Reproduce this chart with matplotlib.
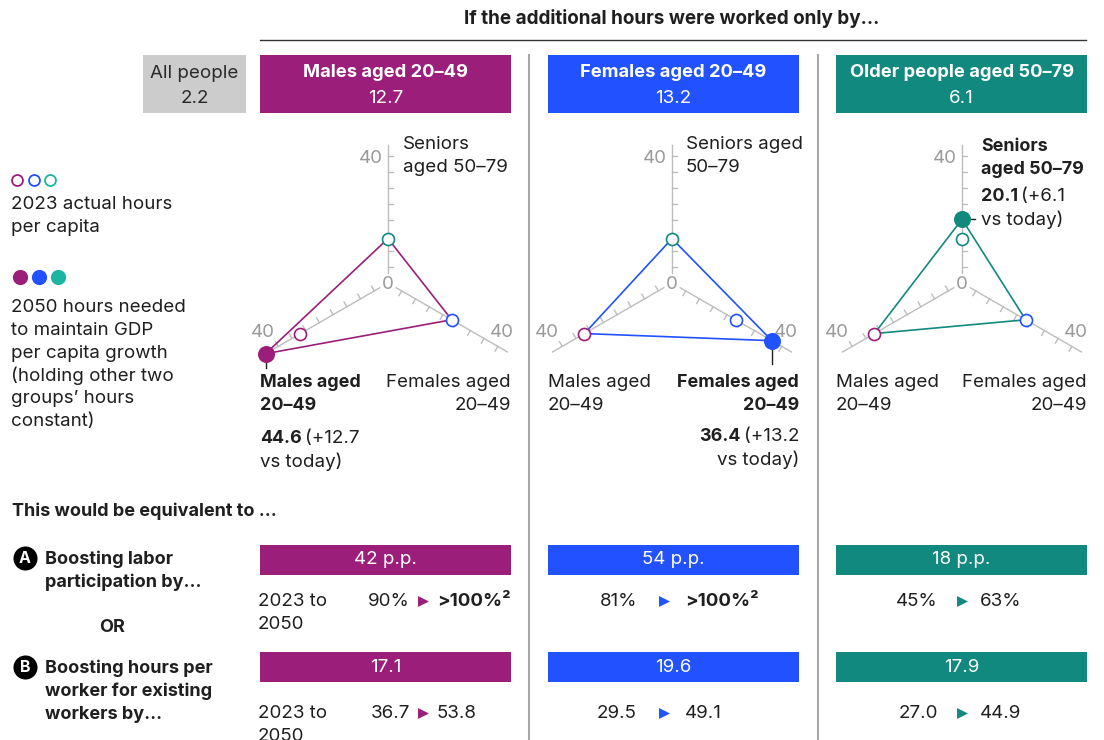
import matplotlib
matplotlib.use('Agg')
import matplotlib.pyplot as plt
import numpy as np
from matplotlib import transforms
from matplotlib.patches import Rectangle

plt.rcParams['font.family'] = ['Inter', 'DejaVu Sans']

# ---- data ----
groups = ['Males aged 20–49', 'Females aged 20–49', 'Older people aged 50–79']
header_vals = ['12.7', '13.2', '6.1']
all_people = '2.2'
axis_names = ['seniors', 'females', 'males']
hours_2023 = [14.0, 23.2, 31.9]          # seniors, females, males
focus_axis = [2, 1, 0]                    # which axis each panel pushes
hours_2050 = [44.6, 36.4, 20.1]
increase = ['+12.7', '+13.2', '+6.1']
particip_pp = ['42 p.p.', '54 p.p.', '18 p.p.']
particip_from = ['90%', '81%', '45%']
particip_to = ['>100%²', '>100%²', '63%']
hpw_gain = ['17.1', '19.6', '17.9']
hpw_from = ['36.7', '29.5', '27.0']
hpw_to = ['53.8', '49.1', '44.9']

MAG = '#9b1f7a'
BLU = '#2251ff'
TEAL = '#12897e'
TEAL_L = '#1bb5a2'
INK = '#1f1f1f'
GRID = '#bdbdbd'
colors = [MAG, BLU, TEAL]
axis_colors = [TEAL, BLU, MAG]   # open-circle colour per axis
angles = np.deg2rad([90, 330, 210])

fig = plt.figure(figsize=(11.04, 7.40), dpi=100)
ax = fig.add_axes([0, 0, 1, 1])
ax.set_xlim(0, 1104)
ax.set_ylim(740, 0)
ax.axis('off')
renderer = fig.canvas.get_renderer()

FS = 13.5
BS = 13.0   # bold side labels
RB = 12.9   # bold radar labels
DY = 1.5    # small nudge down for text


def put(x, y, s, size=FS, weight='normal', color=INK, ha='left', **kw):
    return ax.text(x, y + DY, s, fontsize=size, fontweight=weight, color=color,
                   ha=ha, va='center', **kw)


def lines(x, y0, rows, step=22.8, **kw):
    for i, r in enumerate(rows):
        put(x, y0 + i * step, r, **kw)


def width(t):
    return t.get_window_extent(renderer).width


def mixed_left(x, y, bold, rest):
    t = put(x, y, bold, weight='bold', size=RB)
    put(x + width(t) + 3, y, rest)


def mixed_right(x, y, bold, rest):
    t = put(x, y, rest, ha='right')
    put(x - width(t) - 3, y, bold, weight='bold', ha='right', size=RB)


# ---- title ----
put(672, 17, 'If the additional hours were worked only by...', size=13.6,
    weight='bold', ha='center')
ax.plot([260, 1086], [40, 40], color='#333333', lw=1)

# ---- header boxes ----
ax.add_patch(Rectangle((143, 55), 103, 58, color='#cccccc', lw=0))
put(194.5, 72, 'All people', ha='center', color='#2a2a2a')
put(194.5, 97, all_people, ha='center', color='#2a2a2a')

lefts = [260, 548, 836]
pw = 251
for k in range(3):
    ax.add_patch(Rectangle((lefts[k], 55), pw, 58, color=colors[k], lw=0))
    put(lefts[k] + pw / 2, 71, groups[k], weight='bold', color='white', ha='center',
        size=13.2)
    put(lefts[k] + pw / 2, 97, header_vals[k], color='white', ha='center')

for xs in [529, 818]:
    ax.plot([xs, xs], [55, 740], color='#a8a8a8', lw=1.5)

# ---- legend ----
for i, c in enumerate([MAG, BLU, TEAL_L]):
    ax.scatter(17 + 16.5 * i, 180, s=62, facecolor='white', edgecolor=c, lw=1.3, zorder=3)
    ax.scatter(20 + 19 * i, 277, s=120, color=c, lw=0, zorder=3)
lines(11, 203, ['2023 actual hours', 'per capita'])
lines(11, 306, ['2050 hours needed', 'to maintain GDP', 'per capita growth',
                '(holding other two', 'groups’ hours', 'constant)'])

# ---- radar panels ----
S = 3.17
cxs = [388, 672, 962]
CY = 283
for k in range(3):
    tr = transforms.Affine2D().scale(S, -S).translate(cxs[k], CY) + ax.transData
    for a in angles:
        d = np.array([np.cos(a), np.sin(a)])
        p = np.array([np.sin(a), -np.cos(a)])
        r0, r1 = 3.0, 43.5
        ax.plot([d[0] * r0, d[0] * r1], [d[1] * r0, d[1] * r1], color=GRID, lw=1, transform=tr)
        for v in range(5, 41, 5):
            b = d * v
            e = b + p * 1.7
            ax.plot([b[0], e[0]], [b[1], e[1]], color=GRID, lw=1, transform=tr)
    vals = list(hours_2023)
    vals[focus_axis[k]] = hours_2050[k]
    px = [v * np.cos(a) for v, a in zip(vals, angles)]
    py = [v * np.sin(a) for v, a in zip(vals, angles)]
    ax.plot(px + px[:1], py + py[:1], color=colors[k], lw=1.2, transform=tr, zorder=2)
    for v, a, c in zip(hours_2023, angles, axis_colors):
        ax.scatter(v * np.cos(a), v * np.sin(a), s=75, facecolor='white', edgecolor=c,
                   lw=1.2, transform=tr, zorder=4)
    fa = angles[focus_axis[k]]
    fx, fy = hours_2050[k] * np.cos(fa), hours_2050[k] * np.sin(fa)
    ax.scatter(fx, fy, s=150, color=colors[k], lw=0, transform=tr, zorder=5)
    # leader ticks
    if k < 2:
        ax.plot([fx, fx], [fy - 2.9 if k == 0 else fy - 2.6, fy - 4.5 if k == 0 else fy - 7.5],
                color=INK, lw=1, transform=tr)
    else:
        ax.plot([fx + 2.6, fx + 4.2], [fy, fy], color=INK, lw=1, transform=tr)

    cx = cxs[k]
    put(cx - 5, 157, '40', color='#9a9a9a', ha='right')
    put(cx - 125, 331, '40', color='#9a9a9a', ha='center')
    put(cx + 114, 331, '40', color='#9a9a9a', ha='center')
    put(cx, 283, '0', color='#9a9a9a', ha='center')

# panel 1 labels
lines(403, 143, ['Seniors', 'aged 50–79'])
lines(260, 381, ['Males aged', '20–49'], weight='bold', size=RB)
mixed_left(260, 437, '44.6', '(' + increase[0])
put(260, 460, 'vs today)')
lines(511, 381, ['Females aged', '20–49'], ha='right')

# panel 2 labels
lines(686, 143, ['Seniors aged', '50–79'])
lines(548, 381, ['Males aged', '20–49'])
lines(799, 381, ['Females aged', '20–49'], weight='bold', ha='right', size=RB)
mixed_right(799, 435, '36.4', '(' + increase[1])
put(799, 458, 'vs today)', ha='right')

# panel 3 labels
lines(981, 145, ['Seniors', 'aged 50–79'], weight='bold', size=RB)
mixed_left(981, 195, '20.1', '(' + increase[2])
put(981, 218, 'vs today)')
lines(836, 381, ['Males aged', '20–49'])
lines(1087, 381, ['Females aged', '20–49'], ha='right')

# ---- bottom section ----
put(12, 510, 'This would be equivalent to ...', weight='bold', size=BS)
for lab, yc in [('A', 558), ('B', 667)]:
    ax.scatter(25, yc, s=300, color='black', lw=0)
    put(25, yc - 1, lab, color='white', weight='bold', ha='center', size=11.5)
lines(45, 558, ['Boosting labor', 'participation by...'], weight='bold', size=BS)
put(112, 626, 'OR', weight='bold', size=BS, ha='center')
lines(45, 667, ['Boosting hours per', 'worker for existing', 'workers by...'],
      weight='bold', size=BS)

right_edge = [410, 637, 938]
tri_x = [423, 664, 962]
left_edge = [437, 685, 980]
for k in range(3):
    for y0, lab in [(545, particip_pp[k]), (652, hpw_gain[k])]:
        ax.add_patch(Rectangle((lefts[k], y0), pw, 30, color=colors[k], lw=0))
        put(lefts[k] + pw / 2, y0 + 13.5, lab, color='white', ha='center')
    for yv, a, b in [(600, particip_from[k], particip_to[k]), (712, hpw_from[k], hpw_to[k])]:
        put(right_edge[k], yv, a, ha='right')
        ax.scatter(tri_x[k], yv + 0.5, s=62, marker='>', color=colors[k], lw=0)
        put(left_edge[k], yv, b, weight='bold' if '>' in b else 'normal')

lines(258, 600, ['2023 to', '2050'])
lines(258, 712, ['2023 to', '2050'])

fig.savefig('out.png', dpi=100)
